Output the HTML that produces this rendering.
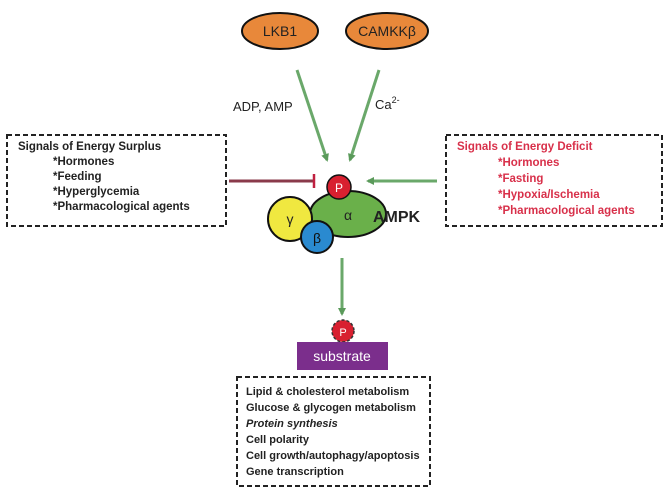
<!DOCTYPE html>
<html><head><style>
body{margin:0;background:#fff}
svg text{font-family:"Liberation Sans",sans-serif}
</style></head><body>
<svg width="669" height="494" viewBox="0 0 669 494" xmlns="http://www.w3.org/2000/svg">
<defs>
<marker id="ga" markerWidth="8" markerHeight="8" refX="6" refY="4" orient="auto" markerUnits="userSpaceOnUse"><path d="M0,0 L8,4 L0,8 Z" fill="#5a9a5a"/></marker>
</defs>
<ellipse cx="280" cy="31" rx="38" ry="18" fill="#e8883a" stroke="#111" stroke-width="2"/>
<text x="280" y="36" font-size="14" text-anchor="middle" fill="#222">LKB1</text>
<ellipse cx="387" cy="31" rx="41" ry="18" fill="#e8883a" stroke="#111" stroke-width="2"/>
<text x="387" y="36" font-size="14" text-anchor="middle" fill="#222">CAMKKβ</text>
<line x1="297" y1="70" x2="327" y2="160" stroke="#6aa86a" stroke-width="3" marker-end="url(#ga)"/>
<line x1="379" y1="70" x2="350" y2="160" stroke="#6aa86a" stroke-width="3" marker-end="url(#ga)"/>
<text x="233" y="111" font-size="13" fill="#222">ADP, AMP</text>
<text x="375" y="109" font-size="13" fill="#222">Ca<tspan font-size="9" dy="-6">2-</tspan></text>
<rect x="7" y="135" width="219" height="91" fill="none" stroke="#222" stroke-width="2" stroke-dasharray="5,3"/>
<g font-size="11.5" font-weight="bold" fill="#222">
<text x="18" y="150">Signals of Energy Surplus</text>
<text x="53" y="165">*Hormones</text>
<text x="53" y="180">*Feeding</text>
<text x="53" y="195">*Hyperglycemia</text>
<text x="53" y="210">*Pharmacological agents</text>
</g>
<rect x="446" y="135" width="216" height="91" fill="none" stroke="#222" stroke-width="2" stroke-dasharray="5,3"/>
<g font-size="11.5" font-weight="bold" fill="#d8304a">
<text x="457" y="150">Signals of Energy Deficit</text>
<text x="498" y="166">*Hormones</text>
<text x="498" y="182">*Fasting</text>
<text x="498" y="198">*Hypoxia/Ischemia</text>
<text x="498" y="214">*Pharmacological agents</text>
</g>
<line x1="229" y1="181" x2="313" y2="181" stroke="#8a3a4a" stroke-width="3"/>
<line x1="314" y1="174" x2="314" y2="188" stroke="#c02040" stroke-width="2.5"/>
<line x1="437" y1="181" x2="368" y2="181" stroke="#6aa86a" stroke-width="3" marker-end="url(#ga)"/>
<ellipse cx="348" cy="214" rx="38" ry="23" fill="#6ab04a" stroke="#111" stroke-width="2"/>
<text x="348" y="220" font-size="14" text-anchor="middle" fill="#222" font-family="Liberation Serif">α</text>
<circle cx="290" cy="219" r="22" fill="#f0e840" stroke="#111" stroke-width="2"/>
<text x="290" y="224" font-size="14" text-anchor="middle" fill="#222" font-family="Liberation Serif">γ</text>
<circle cx="317" cy="237" r="16" fill="#2a8ad0" stroke="#111" stroke-width="2"/>
<text x="317" y="243" font-size="14" text-anchor="middle" fill="#111" font-family="Liberation Serif">β</text>
<circle cx="339" cy="187" r="12" fill="#d82030" stroke="#111" stroke-width="1.5"/>
<text x="339" y="192" font-size="12" text-anchor="middle" fill="#fff">P</text>
<text x="373" y="222" font-size="16" font-weight="bold" fill="#222">AMPK</text>
<line x1="342" y1="258" x2="342" y2="314" stroke="#6aa86a" stroke-width="3" marker-end="url(#ga)"/>
<circle cx="343" cy="331" r="11" fill="#d82030" stroke="#333" stroke-width="1.5" stroke-dasharray="3,2"/>
<text x="343" y="336" font-size="11" text-anchor="middle" fill="#fff">P</text>
<rect x="297" y="342" width="91" height="28" fill="#7b2e8c"/>
<text x="342" y="361" font-size="14" text-anchor="middle" fill="#fff">substrate</text>
<rect x="237" y="377" width="193" height="109" fill="none" stroke="#222" stroke-width="2" stroke-dasharray="5,3"/>
<g font-size="11" font-weight="bold" fill="#222">
<text x="246" y="395">Lipid &amp; cholesterol metabolism</text>
<text x="246" y="411">Glucose &amp; glycogen metabolism</text>
<text x="246" y="427" font-style="italic">Protein synthesis</text>
<text x="246" y="443">Cell polarity</text>
<text x="246" y="459">Cell growth/autophagy/apoptosis</text>
<text x="246" y="475">Gene transcription</text>
</g>
</svg>
</body></html>
